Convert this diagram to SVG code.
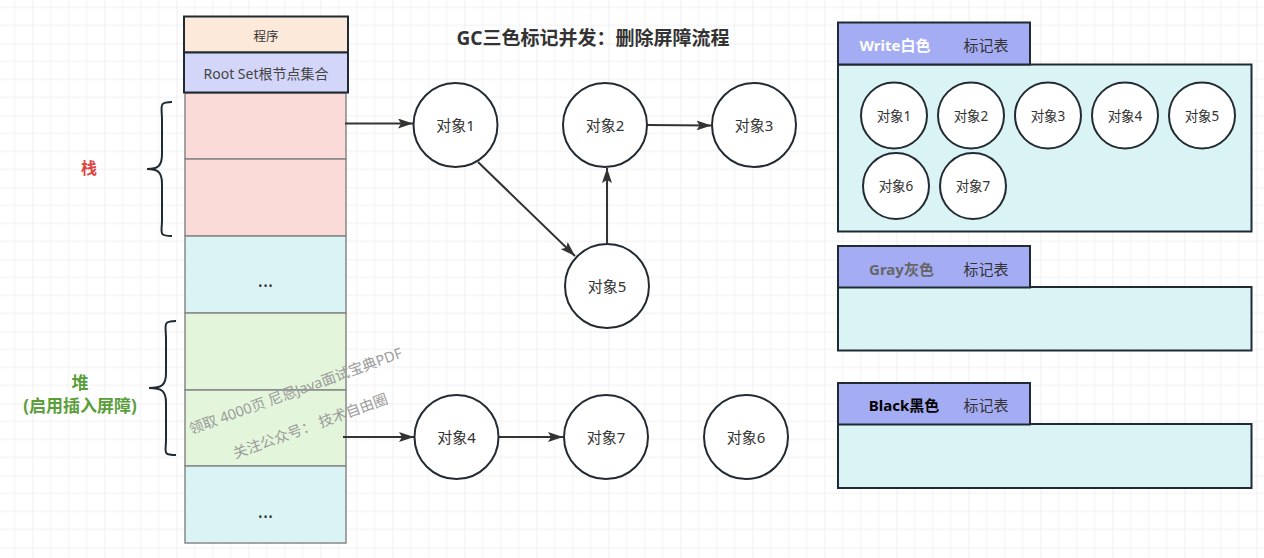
<svg xmlns="http://www.w3.org/2000/svg" width="1264" height="558" viewBox="0 0 1264 558">
<style>
text{font-family:"Noto Sans","Noto Sans CJK SC",sans-serif;fill:#333;}
.c{text-anchor:middle;dominant-baseline:central;}
.obj{fill:#fff;stroke:#222b33;stroke-width:2;}
.hd{stroke:#1f2a33;stroke-width:2;}
.cell{stroke:#888;stroke-width:1.5;}
.pink{fill:#fadbd8;}
.cyan{fill:#daf4f5;}
.green{fill:#e3f5da;}
.tab{fill:#a4acf4;stroke:#1f2a33;stroke-width:2;}
.body{fill:#daf4f5;stroke:#1f2a33;stroke-width:2;}
.conn{stroke:#333;stroke-width:2;fill:none;marker-end:url(#arr);}
.brace{fill:none;stroke:#1f2a33;stroke-width:2;}
.big{font-size:15px;}
.sm{font-size:13.5px;}
.wm{font-size:14.5px;fill:#9c9c9c;text-anchor:middle;}
</style>
<defs>
<pattern id="grid" x="32.5" y="43.3" width="72" height="72" patternUnits="userSpaceOnUse">
<path d="M18,0V72M36,0V72M54,0V72M0,18H72M0,36H72M0,54H72" stroke="#f0f0f0" stroke-width="1" fill="none"/>
<path d="M0,0V72M0,0H72" stroke="#e4e4e4" stroke-width="1.2" fill="none"/>
</pattern>
<marker id="arr" viewBox="0 0 15 10" refX="15" refY="5" markerWidth="15" markerHeight="10" markerUnits="userSpaceOnUse" orient="auto">
<path d="M0,0L15,5L0,10L3,5z" fill="#333"/>
</marker>
</defs>
<rect width="1264" height="558" fill="#fff"/>
<rect width="1264" height="558" fill="url(#grid)"/>

<g id="stack-col">
<rect class="pink cell" x="185" y="93" width="161" height="66"/>
<rect class="pink cell" x="185" y="159" width="161" height="77"/>
<rect class="cyan cell" x="185" y="236" width="161" height="77"/>
<rect class="green cell" x="185" y="313" width="161" height="77"/>
<rect class="green cell" x="185" y="390" width="161" height="76"/>
<rect class="cyan cell" x="185" y="466" width="161" height="77"/>
<text class="c" x="265.5" y="280" font-size="19">...</text>
<text class="c" x="265.5" y="511" font-size="19">...</text>
</g>
<g id="program">
<rect class="hd" x="184" y="16.5" width="164" height="36" fill="#fce9d9"/>
<text class="c" x="266" y="36" font-size="12.5">程序</text>
</g>
<g id="rootset">
<rect class="hd" x="184" y="52.5" width="164" height="40" fill="#d3d6f8"/>
<text class="c" x="266" y="73" font-size="14" style="fill:#444">Root Set根节点集合</text>
</g>

<g id="stack-label">
<path class="brace" d="M172,102 C158,102 162,106 162,120 L162,154 C162,166 158,169 147,169 C158,169 162,172 162,184 L162,220 C162,233 158,236 172,236"/>
<text class="c" x="89" y="168" font-size="16" font-weight="bold" style="fill:#e0433f">栈</text>
</g>
<g id="heap-label">
<path class="brace" d="M176,321 C162,321 166,325 166,339 L166,373 C166,385 162,388 149,388 C162,388 166,391 166,403 L166,440 C166,452 162,455 176,455"/>
<text class="c" x="80" y="382" font-size="17" font-weight="bold" style="fill:#5a9e3a">堆</text>
<text class="c" x="80" y="405" font-size="17" font-weight="bold" style="fill:#5a9e3a">(启用插入屏障)</text>
</g>

<g id="watermark" transform="rotate(-20 302 409)">
<text class="wm" x="302" y="395">领取 4000页 尼恩Java面试宝典PDF</text>
<text class="wm" x="304" y="433">关注公众号： 技术自由圈</text>
</g>

<g id="title">
<text class="c" x="593" y="38" font-size="19" font-weight="bold">GC三色标记并发：删除屏障流程</text>
</g>

<g id="connectors">
<line class="conn" x1="345" y1="123.5" x2="413" y2="123.5"/>
<line class="conn" x1="647" y1="125" x2="711.5" y2="125.5"/>
<line class="conn" x1="478" y1="162" x2="575" y2="256"/>
<line class="conn" x1="607" y1="243" x2="607" y2="168"/>
<line class="conn" x1="343" y1="437" x2="414" y2="437"/>
<line class="conn" x1="499" y1="437" x2="563" y2="437"/>
</g>

<g id="obj1"><circle class="obj" cx="455.5" cy="125" r="42"/><text class="c big" x="455.5" y="125">对象1</text></g>
<g id="obj2"><circle class="obj" cx="605" cy="125" r="42"/><text class="c big" x="605" y="125">对象2</text></g>
<g id="obj3"><circle class="obj" cx="754" cy="125" r="42"/><text class="c big" x="754" y="125">对象3</text></g>
<g id="obj5"><circle class="obj" cx="607" cy="286" r="42"/><text class="c big" x="607" y="286">对象5</text></g>
<g id="obj4"><circle class="obj" cx="456.5" cy="437" r="42"/><text class="c big" x="456.5" y="437">对象4</text></g>
<g id="obj7"><circle class="obj" cx="606" cy="437" r="42"/><text class="c big" x="606" y="437">对象7</text></g>
<g id="obj6"><circle class="obj" cx="746" cy="437" r="42"/><text class="c big" x="746" y="437">对象6</text></g>

<g id="white-table">
<rect class="body" x="838" y="64.5" width="413.5" height="167"/>
<rect class="tab" x="838" y="22.5" width="192" height="42"/>
<text class="c" x="895" y="45" font-size="15" font-weight="bold" style="fill:#fff">Write白色</text>
<text class="c" x="986" y="45" font-size="15">标记表</text>
<g id="w-obj1"><circle class="obj" cx="894" cy="115.5" r="33"/><text class="c sm" x="894" y="115.5">对象1</text></g>
<g id="w-obj2"><circle class="obj" cx="971" cy="115.5" r="33"/><text class="c sm" x="971" y="115.5">对象2</text></g>
<g id="w-obj3"><circle class="obj" cx="1048" cy="115.5" r="33"/><text class="c sm" x="1048" y="115.5">对象3</text></g>
<g id="w-obj4"><circle class="obj" cx="1125" cy="115.5" r="33"/><text class="c sm" x="1125" y="115.5">对象4</text></g>
<g id="w-obj5"><circle class="obj" cx="1202" cy="115.5" r="33"/><text class="c sm" x="1202" y="115.5">对象5</text></g>
<g id="w-obj6"><circle class="obj" cx="896" cy="186" r="33"/><text class="c sm" x="896" y="186">对象6</text></g>
<g id="w-obj7"><circle class="obj" cx="973" cy="186" r="33"/><text class="c sm" x="973" y="186">对象7</text></g>
</g>

<g id="gray-table">
<rect class="body" x="838" y="287" width="413.5" height="63.5"/>
<rect class="tab" x="838" y="246" width="192" height="41.5"/>
<text class="c" x="901.5" y="268.5" font-size="15" font-weight="bold" style="fill:#666">Gray灰色</text>
<text class="c" x="986" y="268.5" font-size="15">标记表</text>
</g>

<g id="black-table">
<rect class="body" x="838" y="424" width="413.5" height="64"/>
<rect class="tab" x="838" y="383" width="192" height="41.5"/>
<text class="c" x="904" y="405" font-size="15" font-weight="bold" style="fill:#000">Black黑色</text>
<text class="c" x="986" y="405" font-size="15">标记表</text>
</g>
</svg>
